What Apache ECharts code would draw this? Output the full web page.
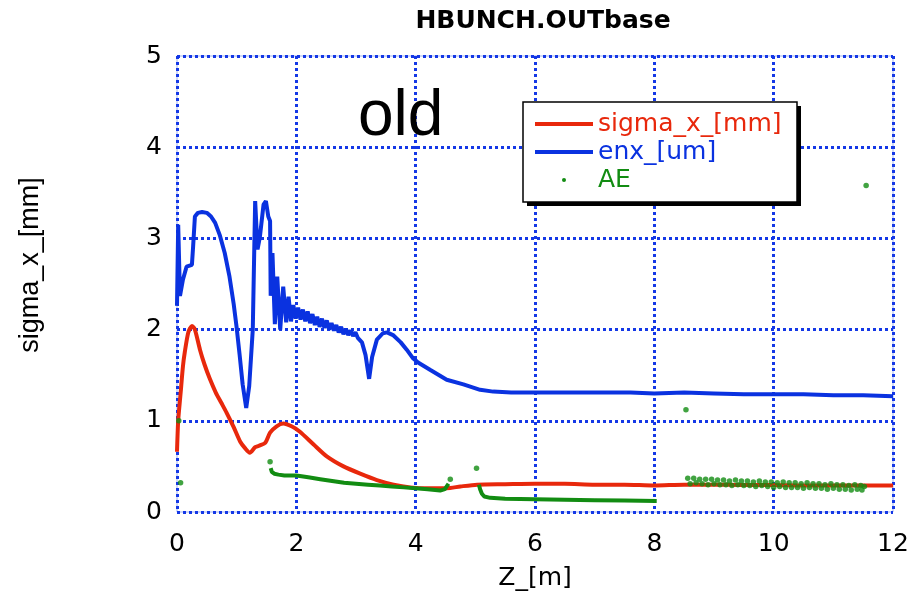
<!DOCTYPE html>
<html>
<head>
<meta charset="utf-8">
<script src="https://cdn.jsdelivr.net/npm/echarts@6/dist/echarts.min.js"></script>
<style>
html,body{margin:0;padding:0;background:#fff;}
#chart{width:913px;height:596px;}
</style>
</head>
<body>
<div id="chart"></div>
<script>
// ---- data ----
var titleText = 'HBUNCH.OUTbase';
var noteText = 'old';
var xName = 'Z_[m]';
var yName = 'sigma_x_[mm]';
var seriesNames = ['sigma_x_[mm]', 'enx_[um]', 'AE'];
var xTicks = [0, 2, 4, 6, 8, 10, 12];
var yTicks = [0, 1, 2, 3, 4, 5];

// sigma_x_[mm]
var sigmaZ = [0.00,0.02,0.06,0.10,0.13,0.19,0.25,0.30,0.385,0.46,0.55,0.65,0.74,0.83,0.95,1.06,1.14,1.22,1.31,1.39,1.48,1.56,1.67,1.78,1.92,2.06,2.29,2.51,2.79,3.07,3.35,3.63,3.91,4.19,4.52,4.75,5.03,5.5,6.0,6.5,7.0,7.5,8.0,8.5,9.0,9.5,10.0,10.5,11.0,11.5,12.0];
var sigmaV = [0.66,1.00,1.30,1.60,1.75,1.97,2.04,2.00,1.78,1.62,1.46,1.31,1.20,1.09,0.93,0.77,0.70,0.65,0.71,0.73,0.76,0.87,0.94,0.97,0.94,0.88,0.74,0.61,0.50,0.42,0.35,0.30,0.27,0.26,0.26,0.28,0.30,0.305,0.31,0.31,0.30,0.30,0.29,0.30,0.30,0.295,0.295,0.29,0.29,0.29,0.29];

// enx_[um]
var enxZ = [0.00,0.02,0.05,0.10,0.16,0.25,0.27,0.30,0.35,0.42,0.50,0.57,0.64,0.72,0.80,0.88,0.95,1.00,1.05,1.10,1.16,1.21,1.27,1.31,1.35,1.39,1.45,1.49,1.53,1.56,1.57,1.60,1.64,1.68,1.73,1.78,1.83,1.87,1.91,1.95,1.99,2.03,2.07,2.11,2.15,2.19,2.23,2.27,2.31,2.35,2.39,2.43,2.47,2.51,2.55,2.59,2.63,2.67,2.71,2.75,2.79,2.83,2.87,2.91,2.95,2.99,3.03,3.10,3.16,3.22,3.27,3.35,3.45,3.52,3.62,3.75,3.85,3.95,4.04,4.24,4.52,4.80,5.08,5.30,5.60,5.92,6.3,6.7,7.1,7.6,8.0,8.5,9.0,9.5,10.0,10.5,11.0,11.5,12.0];
var enxV = [2.26,3.15,2.37,2.55,2.69,2.71,2.91,3.24,3.28,3.29,3.28,3.24,3.17,3.03,2.84,2.58,2.28,2.02,1.72,1.40,1.14,1.38,2.00,3.41,2.88,3.02,3.37,3.41,3.24,3.19,2.37,2.84,2.06,2.58,2.00,2.47,2.08,2.36,2.09,2.27,2.12,2.24,2.11,2.22,2.09,2.20,2.07,2.17,2.05,2.14,2.03,2.12,2.02,2.10,2.00,2.07,1.99,2.05,1.97,2.03,1.95,2.01,1.94,1.99,1.93,1.97,1.91,1.86,1.72,1.46,1.70,1.89,1.96,1.97,1.94,1.86,1.78,1.69,1.64,1.56,1.45,1.40,1.34,1.32,1.31,1.31,1.31,1.31,1.31,1.31,1.30,1.31,1.30,1.29,1.29,1.29,1.28,1.28,1.27];

// AE : two dense runs
var aeRunAZ = [1.57,1.59,1.63,1.70,1.80,1.90,2.00,2.20,2.40,2.60,2.80,3.00,3.20,3.40,3.60,3.80,4.00,4.20,4.41,4.49,4.52,4.55];
var aeRunAV = [0.48,0.44,0.42,0.41,0.40,0.40,0.40,0.38,0.36,0.34,0.32,0.31,0.30,0.29,0.28,0.27,0.26,0.25,0.235,0.25,0.27,0.31];
var aeRunBZ = [5.06,5.08,5.11,5.15,5.25,5.50,6.00,6.50,7.00,7.50,8.04];
var aeRunBV = [0.30,0.25,0.20,0.17,0.155,0.145,0.14,0.135,0.13,0.125,0.12];
// AE : single dots and the scattered band after 8.5 m
var aeDotZ = [0.03,0.06,1.56,4.58,5.02,8.53,11.55,
  8.56,8.66,8.76,8.86,8.96,9.06,9.16,9.26,9.36,9.46,9.56,9.66,9.76,9.86,9.96,10.06,10.16,10.26,10.36,10.46,10.56,10.66,10.76,10.86,10.96,11.06,11.16,11.26,11.36,11.46,11.52,
  8.60,8.70,8.80,8.90,9.00,9.10,9.20,9.30,9.40,9.50,9.60,9.70,9.80,9.90,10.00,10.10,10.20,10.30,10.40,10.50,10.60,10.70,10.80,10.90,11.00,11.10,11.20,11.30,11.40,11.48];
var aeDotV = [1.00,0.32,0.55,0.36,0.48,1.12,3.58,
  0.37,0.37,0.36,0.36,0.36,0.35,0.35,0.34,0.35,0.34,0.34,0.33,0.34,0.33,0.33,0.32,0.33,0.32,0.32,0.31,0.32,0.31,0.31,0.30,0.31,0.30,0.30,0.29,0.30,0.29,0.28,
  0.31,0.32,0.31,0.30,0.31,0.30,0.30,0.29,0.30,0.29,0.29,0.28,0.29,0.28,0.27,0.28,0.27,0.27,0.27,0.26,0.27,0.26,0.26,0.25,0.26,0.25,0.25,0.24,0.25,0.24];

// ---- styling ----
var RED = '#e8280c', BLUE = '#0a32e0', GREEN = '#128c12', GRID = '#1438e6';

function zip(a, b) { return a.map(function (v, i) { return [v, b[i]]; }); }

var chart = echarts.init(document.getElementById('chart'), null, {renderer: 'canvas'});
var splitStyle = {show: true, lineStyle: {color: GRID, width: 3, type: [3, 3]}};
chart.setOption({
  animation: false,
  backgroundColor: '#fff',
  title: [
    {text: titleText, left: 538, top: 4, textAlign: 'center',
     textStyle: {fontFamily: 'DejaVu Sans', fontSize: 25, fontWeight: 'bold', color: '#000'}},
    {text: noteText, left: 353, top: 80,
     textStyle: {fontFamily: 'Liberation Sans', fontSize: 64, fontWeight: 'normal', color: '#000'}}
  ],
  grid: {left: 177, right: 20, top: 56, bottom: 83, show: true, borderColor: '#9fb0f0', borderWidth: 1, backgroundColor: 'transparent'},
  graphic: [
    {type: 'rect', z: 5, shape: {x: 527, y: 106, width: 274, height: 100}, style: {fill: '#000'}},
    {type: 'rect', z: 6, shape: {x: 523, y: 102, width: 274, height: 100}, style: {fill: '#fff', stroke: '#000', lineWidth: 1.5}}
  ],
  legend: {
    orient: 'vertical', left: 523, top: 102, z: 10,
    padding: [9, 12, 10, 12],
    itemWidth: 58, itemHeight: 4, itemGap: 2,
    textStyle: {fontFamily: 'DejaVu Sans', fontSize: 25, lineHeight: 26},
    data: [
      {name: seriesNames[0], icon: 'rect', textStyle: {color: RED}},
      {name: seriesNames[1], icon: 'rect', textStyle: {color: BLUE}},
      {name: seriesNames[2], icon: 'circle', textStyle: {color: GREEN}}
    ]
  },
  xAxis: {
    type: 'value', min: xTicks[0], max: xTicks[xTicks.length - 1], interval: xTicks[1] - xTicks[0],
    name: xName, nameLocation: 'middle', nameGap: 54,
    nameTextStyle: {fontFamily: 'DejaVu Sans', fontSize: 25, color: '#000'},
    axisLine: {show: false}, axisTick: {show: false},
    axisLabel: {fontFamily: 'DejaVu Sans', fontSize: 25, color: '#000', margin: 20},
    splitLine: splitStyle
  },
  yAxis: {
    type: 'value', min: yTicks[0], max: yTicks[yTicks.length - 1], interval: yTicks[1] - yTicks[0],
    name: yName, nameLocation: 'middle', nameGap: 133,
    nameTextStyle: {fontFamily: 'Liberation Sans', fontSize: 27, color: '#000', padding: [0, 0, 0, 38]},
    axisLine: {show: false}, axisTick: {show: false},
    axisLabel: {fontFamily: 'DejaVu Sans', fontSize: 25, color: '#000', margin: 15},
    splitLine: splitStyle
  },
  series: [
    {name: seriesNames[0], type: 'line', symbol: 'none', smooth: 0.25, color: RED, lineStyle: {width: 4}, data: zip(sigmaZ, sigmaV), z: 2},
    {name: seriesNames[1], type: 'line', symbol: 'none', color: BLUE, lineStyle: {width: 4}, data: zip(enxZ, enxV), z: 2},
    {name: seriesNames[2], type: 'line', symbol: 'none', color: GREEN, lineStyle: {width: 4}, data: zip(aeRunAZ, aeRunAV), z: 3},
    {name: seriesNames[2], type: 'line', symbol: 'none', color: GREEN, lineStyle: {width: 4}, data: zip(aeRunBZ, aeRunBV), z: 3},
    {name: seriesNames[2], type: 'scatter', symbol: 'circle', symbolSize: 5.5, color: GREEN, data: zip(aeDotZ, aeDotV), z: 3}
  ]
});
</script>
</body>
</html>
